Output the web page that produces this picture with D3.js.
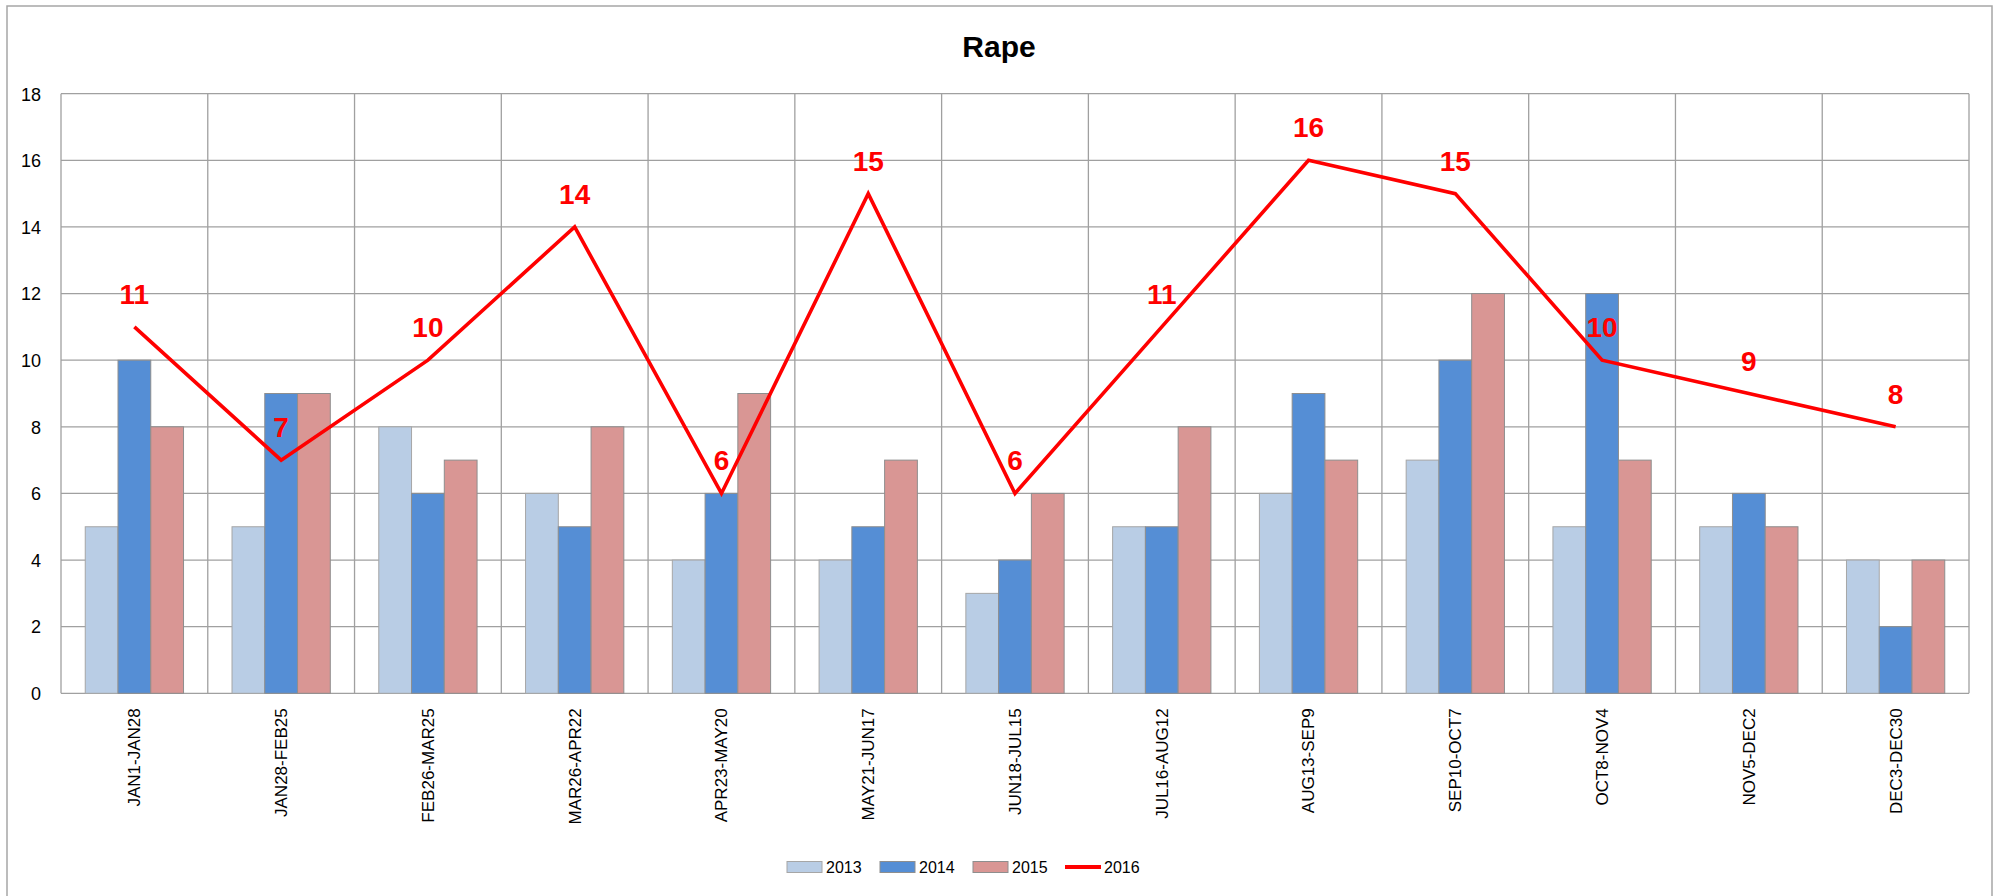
<!DOCTYPE html>
<html>
<head>
<meta charset="utf-8">
<script src="https://cdn.jsdelivr.net/npm/d3@7"></script>
<style>
  html, body { margin: 0; padding: 0; background: #fff; }
  svg { display: block; }
</style>
</head>
<body>
<svg id="chart" width="1998" height="896"></svg>
<script>
const title = "Rape";
const categories = ["JAN1-JAN28","JAN28-FEB25","FEB26-MAR25","MAR26-APR22","APR23-MAY20","MAY21-JUN17","JUN18-JUL15","JUL16-AUG12","AUG13-SEP9","SEP10-OCT7","OCT8-NOV4","NOV5-DEC2","DEC3-DEC30"];
const barSeriesNames = ["2013","2014","2015"];
const values2013 = [5,5,8,6,4,4,3,5,6,7,5,5,4];
const values2014 = [10,9,6,5,6,5,4,5,9,10,12,6,2];
const values2015 = [8,9,7,8,9,7,6,8,7,12,7,5,4];
const lineSeriesName = "2016";
const values2016 = [11,7,10,14,6,15,6,11,16,15,10,9,8];
const yTicks = [0,2,4,6,8,10,12,14,16,18];

const barColors = ["#B9CDE5", "#558ED5", "#D99694"];
const barStrokes = ["#A6A6A6", "#8E8E8E", "#8E8E8E"];
const lineColor = "#FF0000";
const gridColor = "#A0A0A0";
const font = "'Liberation Sans', Arial, sans-serif";

const svg = d3.select("#chart");
const W = 1998, H = 896;
const plot = {left: 61, top: 93.7, right: 1969, bottom: 693.3};

// outer border
svg.append("rect").attr("x", 7).attr("y", 6).attr("width", 1985).attr("height", 900)
  .attr("fill", "#fff").attr("stroke", "#A6A6A6").attr("stroke-width", 1.5);

const x = d3.scaleBand().domain(categories).range([plot.left, plot.right]).paddingInner(0).paddingOuter(0);
const inner = d3.scaleBand().domain(barSeriesNames).range([0, x.bandwidth()]).paddingInner(0).paddingOuter(0.74);
const y = d3.scaleLinear().domain([0, 18]).range([plot.bottom, plot.top]);

// horizontal grid
svg.append("g").selectAll("line").data(yTicks).join("line")
  .attr("x1", plot.left).attr("x2", plot.right)
  .attr("y1", d => y(d)).attr("y2", d => y(d))
  .attr("stroke", gridColor).attr("stroke-width", 1.3);

// vertical grid at category boundaries
const bounds = categories.map(c => x(c)).concat([plot.right]);
svg.append("g").selectAll("line").data(bounds).join("line")
  .attr("x1", d => d).attr("x2", d => d)
  .attr("y1", plot.top).attr("y2", plot.bottom)
  .attr("stroke", gridColor).attr("stroke-width", 1.3);

// y axis labels
const yAxis = d3.axisLeft(y).tickValues(yTicks).tickSize(0).tickPadding(0);
const yg = svg.append("g").attr("transform", `translate(${plot.left - 20},0)`).call(yAxis);
yg.select(".domain").remove();
yg.selectAll("text").attr("font-family", font).attr("font-size", 18).attr("fill", "#000").attr("dy", "0.35em");

// bars
const barData = [values2013, values2014, values2015];
barSeriesNames.forEach((name, si) => {
  svg.append("g").selectAll("rect").data(barData[si]).join("rect")
    .attr("x", (d, i) => x(categories[i]) + inner(name))
    .attr("width", inner.bandwidth())
    .attr("y", d => y(d))
    .attr("height", d => y(0) - y(d))
    .attr("fill", barColors[si])
    .attr("stroke", barStrokes[si]).attr("stroke-width", 1);
});

// x axis labels
const xAxis = d3.axisBottom(x).tickSize(0).tickPadding(0);
const xg = svg.append("g").attr("transform", `translate(0,${plot.bottom})`).call(xAxis);
xg.select(".domain").remove();
xg.selectAll("text")
  .attr("font-family", font).attr("font-size", 17).attr("fill", "#000")
  .attr("text-anchor", "end")
  .attr("transform", "rotate(-90)")
  .attr("x", -15).attr("y", 0).attr("dy", "0.35em");

// line 2016
const cx = i => x(categories[i]) + x.bandwidth() / 2;
const line = d3.line().x((d, i) => cx(i)).y(d => y(d));
svg.append("path").datum(values2016).attr("d", line)
  .attr("fill", "none").attr("stroke", lineColor).attr("stroke-width", 3.6)
  .attr("stroke-linejoin", "miter");

// line labels
svg.append("g").selectAll("text").data(values2016).join("text")
  .attr("x", (d, i) => cx(i)).attr("y", d => y(d) - 23)
  .attr("text-anchor", "middle")
  .attr("font-family", font).attr("font-size", 28).attr("font-weight", "bold")
  .attr("fill", lineColor).text(d => d);

// title
svg.append("text").attr("x", 999).attr("y", 57).attr("text-anchor", "middle")
  .attr("font-family", font).attr("font-size", 30).attr("font-weight", "bold").text(title);

// legend
const legendY = 867;
const legendItems = [
  {name: "2013", type: "bar", i: 0, x: 787},
  {name: "2014", type: "bar", i: 1, x: 880},
  {name: "2015", type: "bar", i: 2, x: 973},
  {name: "2016", type: "line", x: 1065}
];
const lg = svg.append("g");
legendItems.forEach(it => {
  if (it.type === "bar") {
    lg.append("rect").attr("x", it.x).attr("y", legendY - 5.5).attr("width", 35).attr("height", 11)
      .attr("fill", barColors[it.i]).attr("stroke", barStrokes[it.i]).attr("stroke-width", 1);
  } else {
    lg.append("line").attr("x1", it.x).attr("x2", it.x + 36).attr("y1", legendY).attr("y2", legendY)
      .attr("stroke", lineColor).attr("stroke-width", 4);
  }
  lg.append("text").attr("x", it.x + 39).attr("y", legendY).attr("dy", "0.35em")
    .attr("font-family", font).attr("font-size", 16).attr("fill", "#000").text(it.name);
});
</script>
</body>
</html>
